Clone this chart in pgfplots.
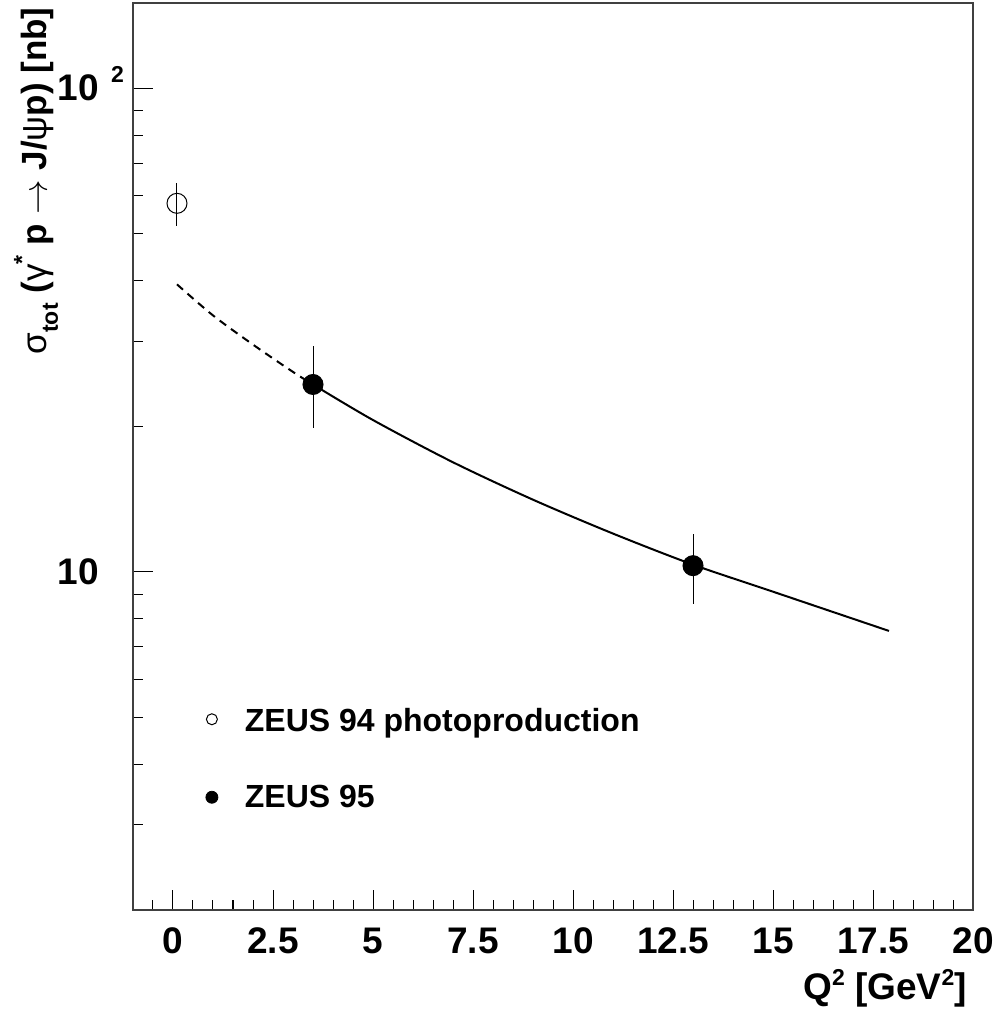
\documentclass[border=0pt]{standalone}
\usepackage{pgfplots}
\pgfplotsset{compat=1.18}
\usepackage{fontspec}
\setmainfont{Liberation Sans}
\begin{document}
\begin{tikzpicture}
\begin{axis}[
  scale only axis, width=420pt, height=453.5pt,
  xmin=-1, xmax=20, ymode=log, ymin=2, ymax=150,
  axis line style={draw=black!75, line width=1pt},
  tick style={draw=black, line width=0.5pt},
  major tick length=10pt, minor tick length=5pt,
  tick align=inside, tick pos=left,
  xtick={0,2.5,5,7.5,10,12.5,15,17.5,20},
  xticklabels={0,2.5,5,7.5,10,12.5,15,17.5,20},
  minor xtick={-0.5,0.5,1,1.5,2,3,3.5,4,4.5,5.5,6,6.5,7,8,8.5,9,9.5,10.5,11,11.5,12,13,13.5,14,14.5,15.5,16,16.5,17,18,18.5,19,19.5},
  ytick={10,100},
  yticklabels={10,{10\rlap{\smash{\hspace{6pt}\raisebox{9pt}{\fontsize{11.5}{13}\selectfont 2}}}}},
  minor ytick={2,3,4,5,6,7,8,9,20,30,40,50,60,70,80,90},
  tick label style={font=\bfseries\fontsize{18.5}{22}\selectfont},
  yticklabel style={inner sep=0pt, anchor=east, xshift=-16.75pt},
  xticklabel style={inner sep=0pt, anchor=base, yshift=-22pt},
  xlabel={Q\raisebox{7pt}{\fontsize{11.5}{13}\selectfont 2} [GeV\raisebox{7pt}{\fontsize{11.5}{13}\selectfont 2}]},
  ylabel={{\mdseries σ}\raisebox{-5.5pt}{\fontsize{11.5}{13}\selectfont tot} ({\mdseries γ}\raisebox{8.5pt}{\fontsize{11.5}{13}\selectfont *} p $\rightarrow$ J/{\mdseries ψ}p) [nb]},
  every axis x label/.style={at={(rel axis cs:1,0)}, xshift=-3pt, yshift=-45pt, anchor=base east, inner sep=0pt, font=\bfseries\fontsize{18.5}{22}\selectfont},
  every axis y label/.style={at={(rel axis cs:0,1)}, xshift=-43pt, yshift=-2pt, rotate=90, anchor=base east, inner sep=0pt, font=\bfseries\fontsize{17.5}{21}\selectfont},
  legend cell align=left,
  legend style={at={(axis cs:0.8125,5.33)}, anchor=north west, draw=none, fill=none, inner sep=0pt, outer sep=0pt, row sep={38pt,between origins}, cells={anchor=base west, inner sep=0pt}, font=\bfseries\fontsize{16}{19}\selectfont},
]
\addlegendimage{legend image code/.code={\draw[black, line width=0.5pt, fill=white] (2.75pt,6pt) circle (2.75pt); \path[draw=none] (0pt,6pt) -- (17.25pt,6pt);}}
\addlegendentry{ZEUS 94 photoproduction}
\addlegendimage{legend image code/.code={\fill[black] (2.75pt,5pt) circle (3pt); \path[draw=none] (0pt,5pt) -- (17.25pt,5pt);}}
\addlegendentry{ZEUS 95}

% fitted curve: dashed extrapolation and solid part
\addplot[forget plot, black, line width=1pt, dash pattern=on 4pt off 3pt, smooth] coordinates {
  (0.1,39.3) (1,33.9) (2,29.5) (3,25.9) (3.5,24.4)
};
\addplot[forget plot, black, line width=1pt, smooth] coordinates {
  (3.5,24.4) (5,20.6) (7,16.85) (9,14.1) (11,12.0) (13,10.35) (15,9.1) (17.9,7.55)
};

% ZEUS 94 photoproduction
\addplot[forget plot, only marks, mark=o, mark size=5pt, black, line width=0.5pt, mark options={fill=white},
  error bars/.cd, y dir=both, y explicit, error mark=none, error bar style={line width=0.5pt}]
  coordinates { (0.1,57.8) += (0,5.8) -= (0,6.0) };

% ZEUS 95
\addplot[forget plot, only marks, mark=*, mark size=5pt, black, line width=0.5pt,
  error bars/.cd, y dir=both, y explicit, error mark=none, error bar style={line width=0.5pt}]
  coordinates { (3.5,24.4) += (0,4.9) -= (0,4.6) (13,10.3) += (0,1.7) -= (0,1.7) };
\end{axis}
\pgfresetboundingbox
\path (-66.5pt,-52.5pt) rectangle (431pt,455pt);
\end{tikzpicture}
\end{document}
